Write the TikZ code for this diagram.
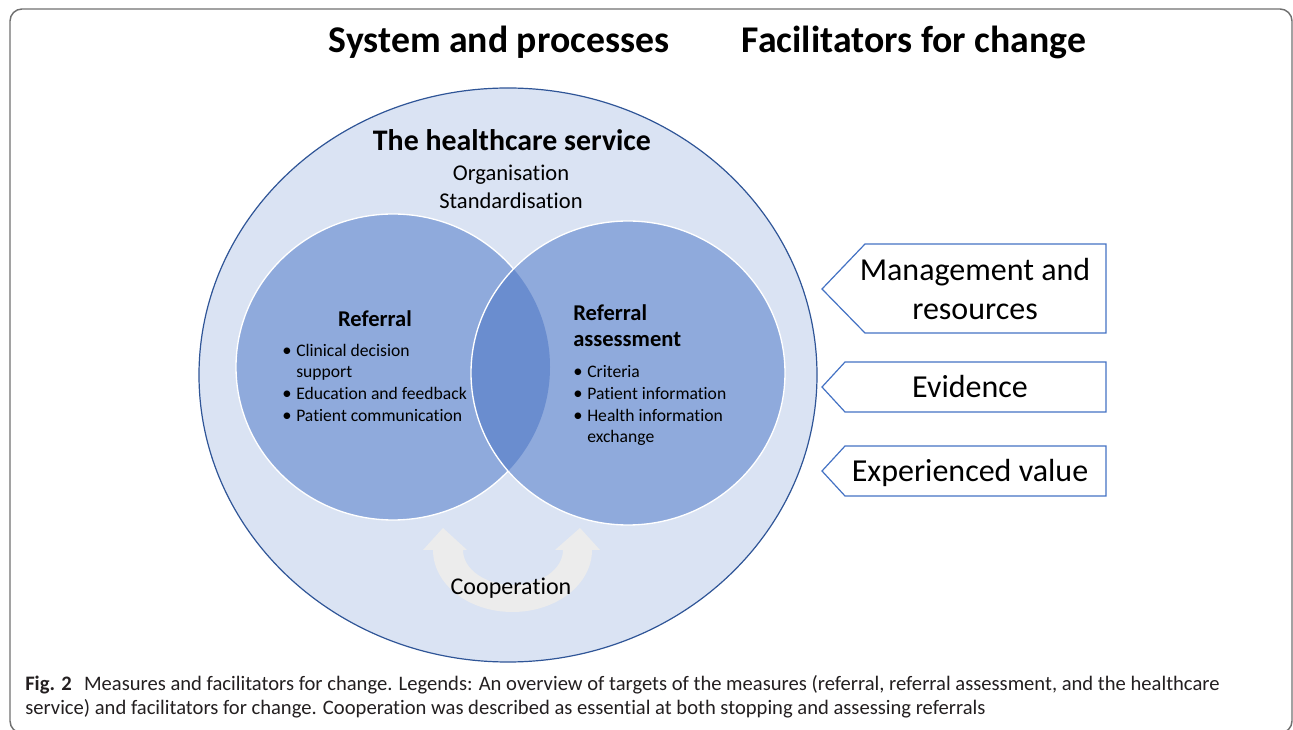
\documentclass[tikz,border=0pt]{standalone}
\usepackage{fontspec}
\setmainfont{Carlito}[Ligatures=NoCommon]
\definecolor{outerfill}{HTML}{DAE3F3}
\definecolor{outerline}{HTML}{2F5597}
\definecolor{innerfill}{HTML}{8FAADC}
\definecolor{lensfill}{HTML}{6A8DCF}
\definecolor{pentline}{HTML}{4472C4}
\definecolor{coopfill}{HTML}{ECECEC}
\definecolor{framegray}{HTML}{707070}
\definecolor{captext}{HTML}{231F20}
\tikzset{
  title/.style={anchor=base, font=\fontsize{28.3}{34}\selectfont\bfseries, inner sep=0pt},
  hstitle/.style={anchor=base, font=\fontsize{22.4}{27}\selectfont\bfseries, inner sep=0pt},
  hsitem/.style={anchor=base, font=\fontsize{16.9}{21}\selectfont, inner sep=0pt},
  circtitle/.style={anchor=base, font=\fontsize{16.9}{20}\selectfont\bfseries, inner sep=0pt},
  bul/.style={anchor=base, font=\fontsize{14}{16}\selectfont, inner sep=0pt},
  bultext/.style={anchor=base west, font=\fontsize{13.2}{16}\selectfont, inner sep=0pt},
  penttext/.style={anchor=base, font=\fontsize{24}{29}\selectfont, inner sep=0pt},
  pent/.style={draw=pentline, line width=0.9pt, fill=white, line join=miter},
  coop/.style={anchor=base, font=\fontsize{18}{22}\selectfont, inner sep=0pt},
  captionstyle/.style={anchor=base west, font=\fontsize{15.45}{18}\selectfont, text=captext, inner sep=0pt},
}
\begin{document}
\begin{tikzpicture}[x=0.75pt,y=-0.75pt]
\useasboundingbox (0,0) rectangle (1293,730);
\clip (0,0) rectangle (1293,730);
% frame
\draw[framegray, line width=1.1pt, rounded corners=9pt] (10,9) rectangle (1292,733);
% titles
\node[title] (t1) at (499,53) {System and processes};
\node[title] (t2) at (914,53) {Facilitators for change};
% outer ellipse
\path[fill=outerfill, draw=outerline, line width=0.9pt] (508,375) ellipse [x radius=309, y radius=287];
\node[hstitle] (hs) at (512,151) {The healthcare service};
\node[hsitem] (org) at (511,181) {Organisation};
\node[hsitem] (std) at (511,209) {Standardisation};
% inner circles
\path[fill=innerfill, draw=white, line width=1pt] (393,367) ellipse [x radius=157, y radius=153];
\path[fill=innerfill] (628,373) ellipse [x radius=157, y radius=152];
\begin{scope}
  \clip (393,367) ellipse [x radius=157, y radius=153];
  \fill[lensfill] (628,373) ellipse [x radius=157, y radius=152];
\end{scope}
\draw[white, line width=1pt] (628,373) ellipse [x radius=157, y radius=152];
% left circle text
\node[circtitle] (ref) at (375,327) {Referral};
\node[bul] (lb1) at (287,357) {•};
\node[bultext] (l1) at (296,357) {Clinical decision};
\node[bultext] (l1b) at (296,378) {support};
\node[bul] (lb2) at (287,400) {•};
\node[bultext] (l2) at (296,400) {Education and feedback};
\node[bul] (lb3) at (287,422) {•};
\node[bultext] (l3) at (296,422) {Patient communication};
% right circle text
\node[circtitle, anchor=base west] (ra1) at (573,321) {Referral};
\node[circtitle, anchor=base west] (ra2) at (573,347) {assessment};
\node[bul] (rb1) at (578,378) {•};
\node[bultext] (r1) at (587,378) {Criteria};
\node[bul] (rb2) at (578,400) {•};
\node[bultext] (r2) at (587,400) {Patient information};
\node[bul] (rb3) at (578,422) {•};
\node[bultext] (r3) at (587,422) {Health information};
\node[bultext] (r3b) at (587,443) {exchange};
% cooperation arrow
\fill[coopfill] (433,550) arc[start angle=180, end angle=0, x radius=79.5, y radius=62]
  -- (600,550) -- (580,528) -- (555,550) -- (563,550)
  arc[start angle=0, end angle=180, x radius=50, y radius=35]
  -- (467,550) -- (443,528) -- (423,550) -- cycle;
\node[coop] (coop) at (511,595) {Cooperation};
% pentagons
\draw[pent] (822,289) -- (865,244) -- (1106,244) -- (1106,333) -- (865,333) -- cycle;
\draw[pent] (822,387) -- (845,362) -- (1106,362) -- (1106,412) -- (845,412) -- cycle;
\draw[pent] (822,471) -- (845,446) -- (1106,446) -- (1106,496) -- (845,496) -- cycle;
\node[penttext] (p1a) at (975,281) {Management and};
\node[penttext] (p1b) at (975,320) {resources};
\node[penttext] (p2) at (970,398) {Evidence};
\node[penttext] (p3) at (970,482) {Experienced value};
% caption
\node[captionstyle] (cap1) at (25,691) {\textbf{Fig. 2}\hspace{0.6em}Measures and facilitators for change. Legends: An overview of targets of the measures (referral, referral assessment, and the healthcare};
\node[captionstyle] (cap2) at (25,715) {service) and facilitators for change. Cooperation was described as essential at both stopping and assessing referrals};
\end{tikzpicture}
\end{document}
